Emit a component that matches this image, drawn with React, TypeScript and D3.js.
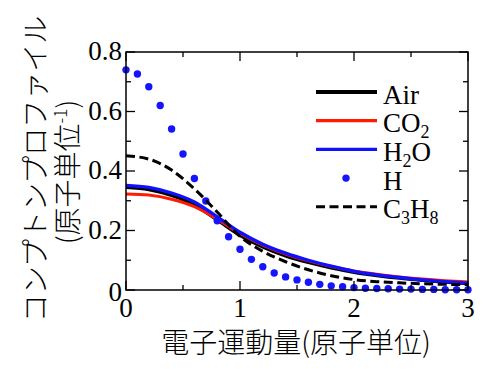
import React from "react";
import * as d3 from "d3";

// momentum grid for the curves (atomic units)
const qCurve = [0, 0.2, 0.4, 0.6, 0.8, 1.0, 1.2, 1.4, 1.6, 1.8, 2.0, 2.2, 2.4, 2.6, 2.8, 3.0];
const air = [0.345, 0.338, 0.318, 0.286, 0.236, 0.184, 0.145, 0.115, 0.093, 0.075, 0.06, 0.049, 0.04, 0.033, 0.027, 0.022];
const co2 = [0.323, 0.319, 0.305, 0.28, 0.238, 0.19, 0.151, 0.121, 0.098, 0.079, 0.064, 0.053, 0.044, 0.037, 0.031, 0.027];
const h2o = [0.352, 0.345, 0.326, 0.296, 0.246, 0.194, 0.154, 0.124, 0.1, 0.08, 0.063, 0.051, 0.042, 0.034, 0.028, 0.023];
const c3h8 = [0.451, 0.44, 0.403, 0.34, 0.262, 0.18, 0.13, 0.095, 0.068, 0.048, 0.035, 0.028, 0.024, 0.021, 0.019, 0.018];

// hydrogen points, every 0.1 a.u.
const qDots = d3.range(0, 3.05, 0.1);
const hydrogen = [
  0.74, 0.726, 0.683, 0.62, 0.541, 0.457, 0.375, 0.299, 0.233, 0.179, 0.137,
  0.103, 0.078, 0.057, 0.044, 0.034, 0.026, 0.019, 0.014, 0.011, 0.008, 0.006,
  0.005, 0.004, 0.003, 0.003, 0.002, 0.002, 0.001, 0.001, 0.001,
];

const xTickLabels = ["0", "1", "2", "3"];
const yTickLabels = ["0", "0.2", "0.4", "0.6", "0.8"];

const width = 502;
const height = 369;
const left = 126;
const right = 468;
const top = 52;
const bottom = 290;

const serif = { fontFamily: '"Liberation Serif"', fontSize: 27 };
const cjk = { fontFamily: '"Noto Sans CJK JP"', fontSize: 28, fontWeight: 300 };

const App = () => {
  const x = d3.scaleLinear().domain([0, 3]).range([left, right]);
  const y = d3.scaleLinear().domain([0, 0.8]).range([bottom, top]);

  const line = d3
    .line<number>()
    .x((d, i) => x(qCurve[i]))
    .y((d) => y(d))
    .curve(d3.curveMonotoneX);

  const xMajor = x.ticks(3);
  const xMinor = d3.range(0.5, 3, 1);
  const yMajor = y.ticks(4);
  const yMinor = d3.range(0.1, 0.8, 0.2);

  const legendX = 316;
  const legendY = 92;
  const rowH = 28.7;
  const textX = 383;

  return (
    <svg
      width={width}
      height={height}
      style={{ position: "absolute", left: 0, top: 0, background: "#fff" }}
    >
      {/* curves */}
      <path d={line(air) || ""} fill="none" stroke="#000" strokeWidth={3.5} />
      <path d={line(co2) || ""} fill="none" stroke="#ff1a00" strokeWidth={3} />
      <path d={line(h2o) || ""} fill="none" stroke="#1010ff" strokeWidth={3.3} />
      {hydrogen.map((v, i) => (
        <circle key={i} cx={x(qDots[i])} cy={y(v)} r={3.7} fill="#1414ff" />
      ))}
      <path
        d={line(c3h8) || ""}
        fill="none"
        stroke="#000"
        strokeWidth={3}
        strokeDasharray="9 4.5"
      />

      {/* frame */}
      <rect
        x={left}
        y={top}
        width={right - left}
        height={bottom - top}
        fill="none"
        stroke="#000"
        strokeWidth={1.5}
      />

      {/* ticks, pointing inward */}
      <g stroke="#000" strokeWidth={1.3}>
        {xMajor.map((t) => (
          <g key={"xM" + t}>
            <line x1={x(t)} x2={x(t)} y1={bottom} y2={bottom - 9} />
            <line x1={x(t)} x2={x(t)} y1={top} y2={top + 9} />
          </g>
        ))}
        {xMinor.map((t) => (
          <g key={"xm" + t}>
            <line x1={x(t)} x2={x(t)} y1={bottom} y2={bottom - 5} />
            <line x1={x(t)} x2={x(t)} y1={top} y2={top + 5} />
          </g>
        ))}
        {yMajor.map((t) => (
          <g key={"yM" + t}>
            <line x1={left} x2={left + 9} y1={y(t)} y2={y(t)} />
            <line x1={right} x2={right - 9} y1={y(t)} y2={y(t)} />
          </g>
        ))}
        {yMinor.map((t) => (
          <g key={"ym" + t}>
            <line x1={left} x2={left + 5} y1={y(t)} y2={y(t)} />
            <line x1={right} x2={right - 5} y1={y(t)} y2={y(t)} />
          </g>
        ))}
      </g>

      {/* tick labels */}
      {xMajor.map((t, i) => (
        <text key={"xl" + t} x={x(t)} y={317} textAnchor="middle" style={serif}>
          {xTickLabels[i]}
        </text>
      ))}
      {yMajor.map((t, i) => (
        <text
          key={"yl" + t}
          x={122}
          y={y(t) + (i === 0 ? 2 : -1)}
          dy="0.35em"
          textAnchor="end"
          style={serif}
        >
          {yTickLabels[i]}
        </text>
      ))}

      {/* axis titles */}
      <text x={296} y={353} textAnchor="middle" style={cjk}>
        電子運動量(原子単位)
      </text>
      <g transform="rotate(-90)">
        <text x={-169} y={46} textAnchor="middle" style={cjk}>
          コンプトンプロファイル
        </text>
        <text x={-172} y={78} textAnchor="middle" style={cjk}>
          (原子単位
          <tspan style={{ fontSize: 17 }} dy={-11}>-1</tspan>
          <tspan dy={11}>)</tspan>
        </text>
      </g>

      {/* legend */}
      <line x1={legendX} x2={legendX + 61} y1={legendY} y2={legendY} stroke="#000" strokeWidth={4} />
      <text x={textX} y={legendY + 11.5} style={serif}>Air</text>

      <line x1={legendX} x2={legendX + 61} y1={legendY + rowH} y2={legendY + rowH} stroke="#ff1a00" strokeWidth={3.2} />
      <text x={textX} y={legendY + rowH + 11.5} style={serif}>
        CO<tspan style={{ fontSize: 18 }} dy={6}>2</tspan>
      </text>

      <line x1={legendX} x2={legendX + 61} y1={legendY + 2 * rowH} y2={legendY + 2 * rowH} stroke="#1010ff" strokeWidth={3.2} />
      <text x={textX} y={legendY + 2 * rowH + 11.5} style={serif}>
        H<tspan style={{ fontSize: 18 }} dy={6}>2</tspan>
        <tspan dy={-6}>O</tspan>
      </text>

      <circle cx={346} cy={legendY + 3 * rowH} r={3.7} fill="#1414ff" />
      <text x={textX} y={legendY + 3 * rowH + 11.5} style={serif}>H</text>

      <line
        x1={legendX}
        x2={legendX + 61}
        y1={legendY + 4 * rowH}
        y2={legendY + 4 * rowH}
        stroke="#000"
        strokeWidth={3}
        strokeDasharray="9 4.5"
      />
      <text x={textX} y={legendY + 4 * rowH + 11.5} style={serif}>
        C<tspan style={{ fontSize: 18 }} dy={6}>3</tspan>
        <tspan dy={-6}>H</tspan>
        <tspan style={{ fontSize: 18 }} dy={6}>8</tspan>
      </text>
    </svg>
  );
};

export default App;
